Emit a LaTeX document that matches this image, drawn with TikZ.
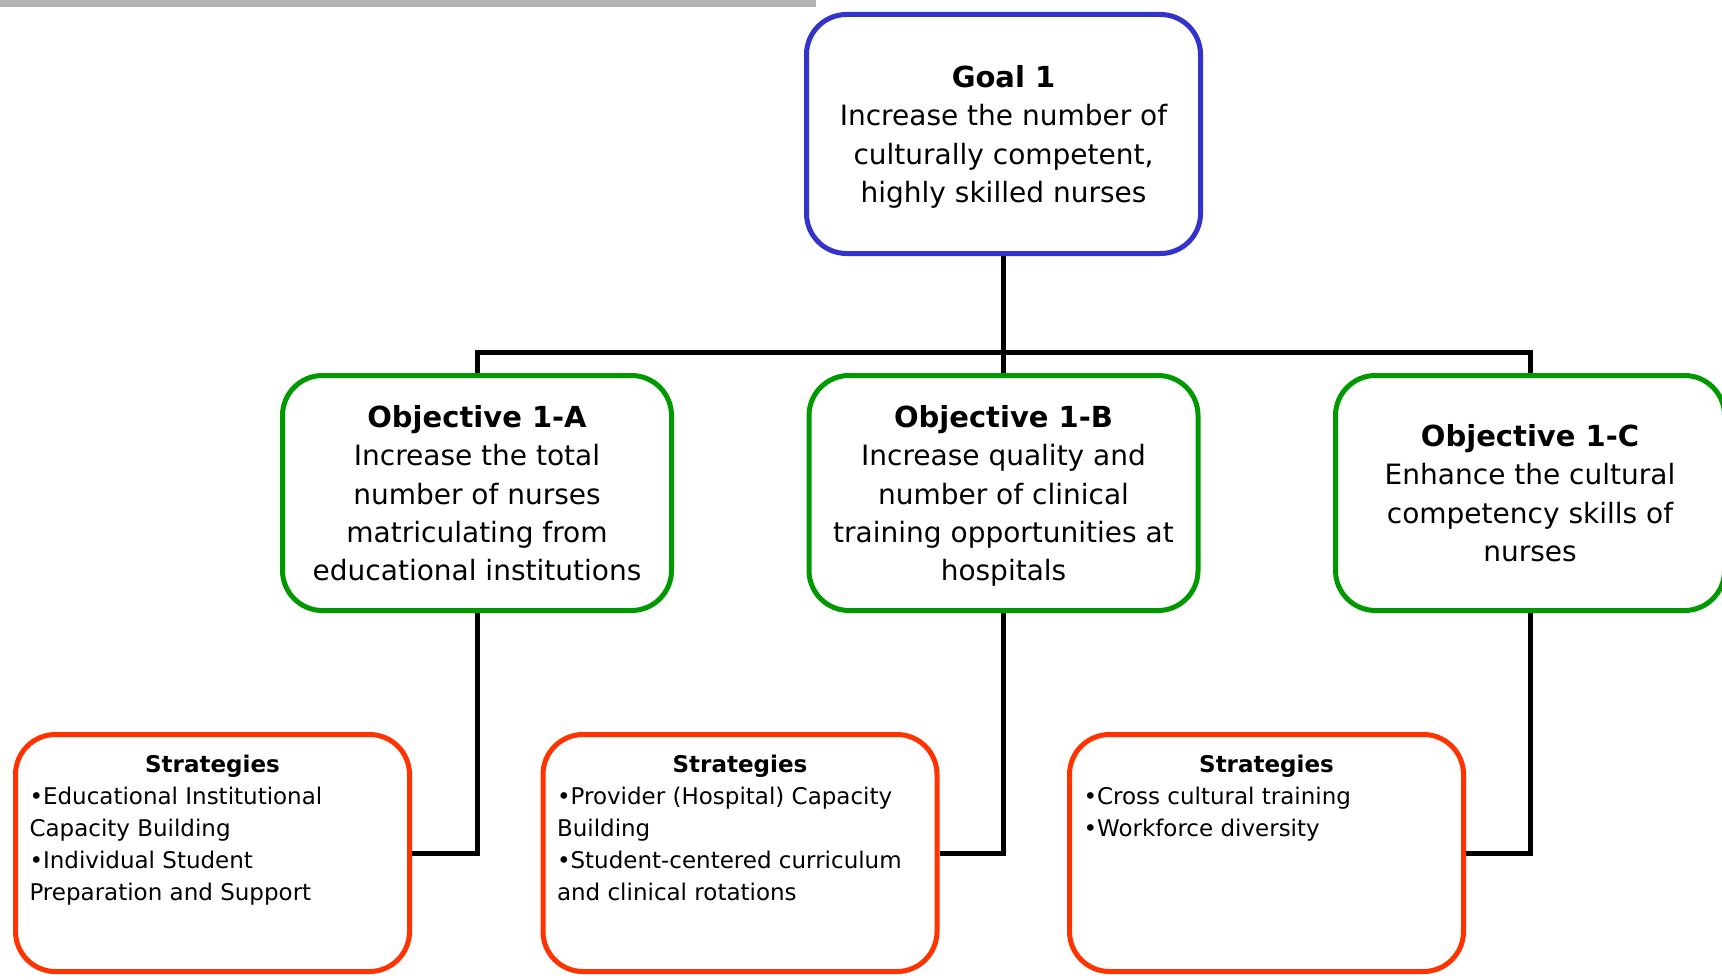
\documentclass[tikz,border=0pt]{standalone}
\usepackage{fontspec}
\setmainfont{DejaVu Sans}
\definecolor{goalblue}{RGB}{51,51,204}
\definecolor{objgreen}{RGB}{0,153,0}
\definecolor{stratred}{RGB}{255,51,0}
\definecolor{bargray}{RGB}{178,178,178}
\newcommand{\boxtitle}[1]{{\fontsize{14.5}{19.2}\selectfont\bfseries #1}}
\begin{document}
\begin{tikzpicture}[
	x=0.5pt, y=-0.5pt,
	box/.style={rectangle, draw, line width=2.5pt, rounded corners=20pt, fill=white, inner sep=0pt},
	goalbox/.style={box, draw=goalblue, align=center, text depth=0pt, minimum width=197pt, minimum height=119.5pt, font=\fontsize{14}{19.2}\selectfont},
	objbox/.style={box, draw=objgreen, align=center, text depth=0pt, minimum width=194.5pt, minimum height=117.5pt, font=\fontsize{14}{19.2}\selectfont},
	stratbox/.style={box, draw=stratred, minimum width=197pt, minimum height=118.5pt, font=\fontsize{11.5}{16}\selectfont},
	link/.style={line width=2.5pt}
	]

	\useasboundingbox (0,0) rectangle (1722,979);
	\clip (0,0) rectangle (1722,979);

	\fill[bargray] (0,0) rectangle (816,7);

	\node[goalbox] (goal) at (1003.5,134) {\boxtitle{Goal 1}\\Increase the number of\\culturally competent,\\highly skilled nurses};

	\node[objbox] (objA) at (477,493) {\boxtitle{Objective 1-A}\\Increase the total\\number of nurses\\matriculating from\\educational institutions};
	\node[objbox] (objB) at (1003.5,493) {\boxtitle{Objective 1-B}\\Increase quality and\\number of clinical\\training opportunities at\\hospitals};
	\node[objbox] (objC) at (1530,493) {\boxtitle{Objective 1-C}\\Enhance the cultural\\competency skills of\\nurses};

	\node[stratbox] (stratA) at (212.5,853) {\parbox[c][98pt][t]{183pt}{\centering\textbf{Strategies}\par\raggedright •Educational Institutional\\Capacity Building\\•Individual Student\\Preparation and Support}};
	\node[stratbox] (stratB) at (740,853) {\parbox[c][98pt][t]{183pt}{\centering\textbf{Strategies}\par\raggedright •Provider (Hospital) Capacity\\Building\\•Student-centered curriculum\\and clinical rotations}};
	\node[stratbox] (stratC) at (1266.5,853) {\parbox[c][98pt][t]{183pt}{\centering\textbf{Strategies}\par\raggedright •Cross cultural training\\•Workforce diversity}};

	\coordinate (bus) at (1003.5,352);
	\draw[link] (goal.south) -- (goal.south |- bus);
	\draw[link] (objA.north) |- (objC.north |- bus) -- (objC.north);
	\draw[link] (objB.north) -- (objB.north |- bus);

	\draw[link] (stratA.east) -| (objA.south);
	\draw[link] (stratB.east) -| (objB.south);
	\draw[link] (stratC.east) -| (objC.south);

\end{tikzpicture}
\end{document}
